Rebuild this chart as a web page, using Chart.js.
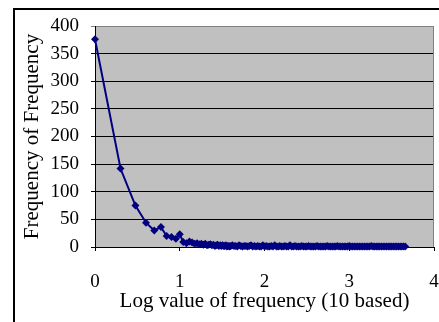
<!DOCTYPE html>
<html>
<head>
<meta charset="utf-8">
<script src="https://cdn.jsdelivr.net/npm/chart.js@4/dist/chart.umd.min.js"></script>
<style>
  body { margin: 0; background: #fff; }
  #wrap { width: 439px; height: 322px; position: relative; }
</style>
</head>
<body>
<div id="wrap"><canvas id="fofChart"></canvas></div>
<script>
// log10 of each observed frequency (x) and how many words had it (y)
var logFreq = [
  0, 0.301, 0.477, 0.602, 0.699, 0.778, 0.845, 0.903, 0.954, 1.0,
  1.041, 1.079, 1.114, 1.146, 1.176, 1.204, 1.23, 1.255, 1.279, 1.301,
  1.322, 1.342, 1.362, 1.38, 1.398, 1.415, 1.431, 1.447, 1.462, 1.477,
  1.491, 1.505, 1.519, 1.531, 1.544, 1.556, 1.568, 1.58, 1.591, 1.602,
  1.62, 1.64, 1.66, 1.68, 1.70, 1.72, 1.74, 1.76, 1.78, 1.80,
  1.82, 1.84, 1.86, 1.88, 1.90, 1.92, 1.94, 1.96, 1.98, 2.00,
  2.02, 2.04, 2.06, 2.08, 2.10, 2.12, 2.14, 2.16, 2.18, 2.20,
  2.22, 2.24, 2.26, 2.28, 2.30, 2.32, 2.34, 2.36, 2.38, 2.40,
  2.42, 2.44, 2.46, 2.48, 2.50, 2.52, 2.54, 2.56, 2.58, 2.60,
  2.62, 2.64, 2.66, 2.68, 2.70, 2.72, 2.74, 2.76, 2.78, 2.80,
  2.82, 2.84, 2.86, 2.88, 2.90, 2.92, 2.94, 2.96, 2.98, 3.00,
  3.02, 3.04, 3.06, 3.08, 3.10, 3.12, 3.14, 3.16, 3.18, 3.20,
  3.22, 3.24, 3.26, 3.28, 3.30, 3.32, 3.34, 3.36, 3.38, 3.40,
  3.42, 3.44, 3.46, 3.48, 3.50, 3.52, 3.54, 3.56, 3.58, 3.60,
  3.62, 3.64, 3.66
];
var freqOfFreq = [
  376, 142, 75, 44, 30, 36, 20, 18, 15, 23,
  9, 7, 10, 8, 6, 7, 5, 6, 4, 6,
  3, 4, 5, 3, 4, 2, 3, 4, 2, 3,
  2, 3, 2, 2, 3, 1, 2, 2, 1, 2,
  3, 2, 2, 1, 3, 2, 1, 2, 2, 1,
  2, 3, 1, 2, 1, 2, 1, 1, 3, 1,
  2, 1, 1, 2, 1, 3, 1, 1, 2, 1,
  1, 2, 1, 1, 3, 1, 1, 2, 1, 1,
  1, 2, 1, 1, 1, 2, 1, 1, 1, 1,
  2, 1, 1, 1, 1, 1, 2, 1, 1, 1,
  1, 1, 2, 1, 1, 1, 1, 1, 1, 2,
  1, 1, 1, 1, 1, 1, 1, 1, 1, 1,
  1, 1, 2, 1, 1, 1, 1, 1, 1, 1,
  1, 1, 1, 1, 1, 1, 1, 1, 1, 1,
  1, 1, 1
];
var xTicks = [0, 1, 2, 3, 4];
var yTicks = [0, 50, 100, 150, 200, 250, 300, 350, 400];

var points = [];
for (var i = 0; i < logFreq.length; i++) {
  points.push({ x: logFreq[i], y: freqOfFreq[i] });
}

var font = 'Liberation Serif';

// grey plot area + frame round the whole chart
var framePlugin = {
  id: 'frame',
  beforeDraw: function (chart) {
    var ctx = chart.ctx;
    var a = chart.chartArea;
    ctx.save();
    ctx.fillStyle = '#c0c0c0';
    ctx.fillRect(a.left, a.top, a.right - a.left, a.bottom - a.top);
    ctx.restore();
  },
  afterDraw: function (chart) {
    var ctx = chart.ctx;
    var a = chart.chartArea;
    ctx.save();
    ctx.strokeStyle = '#808080';
    ctx.lineWidth = 1;
    ctx.beginPath();
    ctx.moveTo(Math.round(a.right) - 0.5, a.top);
    ctx.lineTo(Math.round(a.right) - 0.5, a.bottom);
    ctx.stroke();
    ctx.strokeStyle = '#000';
    ctx.lineWidth = 2;
    ctx.beginPath();
    ctx.moveTo(14, 330);
    ctx.lineTo(14, 9);
    ctx.lineTo(440, 9);
    ctx.stroke();
    ctx.restore();
  }
};

// keep the plot box where the layout padding puts it
function noAxisPadding(axis) {
  axis.paddingLeft = 0;
  axis.paddingRight = 0;
  axis.paddingTop = 0;
  axis.paddingBottom = 0;
}

var ctx = document.getElementById('fofChart').getContext('2d');
new Chart(ctx, {
  type: 'scatter',
  data: {
    datasets: [{
      data: points,
      showLine: true,
      clip: false,
      borderColor: '#000080',
      backgroundColor: '#000080',
      borderWidth: 2,
      pointStyle: 'rectRot',
      pointRadius: 4,
      pointBorderWidth: 0,
      tension: 0
    }]
  },
  options: {
    responsive: true,
    maintainAspectRatio: false,
    animation: false,
    layout: { padding: { top: 26, right: 5, left: 0, bottom: 0 } },
    plugins: { legend: { display: false }, tooltip: { enabled: false } },
    scales: {
      x: {
        type: 'linear',
        min: 0,
        max: 4,
        afterBuildTicks: function (axis) {
          axis.ticks = xTicks.map(function (v) { return { value: v }; });
        },
        afterFit: function (axis) { axis.height = 75; noAxisPadding(axis); },
        grid: { drawOnChartArea: false, color: '#000', tickLength: 4 },
        border: { color: '#000', width: 1 },
        ticks: { color: '#000', padding: 20, font: { family: font, size: 19 } },
        title: {
          display: true,
          text: 'Log value of frequency (10 based)',
          color: '#000',
          font: { family: font, size: 21 },
          padding: { top: 0, bottom: 8 }
        }
      },
      y: {
        min: 0,
        max: 400,
        afterBuildTicks: function (axis) {
          axis.ticks = yTicks.map(function (v) { return { value: v }; });
        },
        afterFit: function (axis) { axis.width = 95; noAxisPadding(axis); },
        grid: {
          color: function (c) { return c.tick && c.tick.value === 400 ? '#808080' : '#000'; },
          tickLength: 4
        },
        border: { color: '#000', width: 1 },
        ticks: { color: '#000', padding: 12, font: { family: font, size: 19 } },
        title: {
          display: true,
          text: 'Frequency of Frequency',
          color: '#000',
          font: { family: font, size: 21 },
          padding: { top: 20, bottom: 0 }
        }
      }
    }
  },
  plugins: [framePlugin]
});
</script>
</body>
</html>
